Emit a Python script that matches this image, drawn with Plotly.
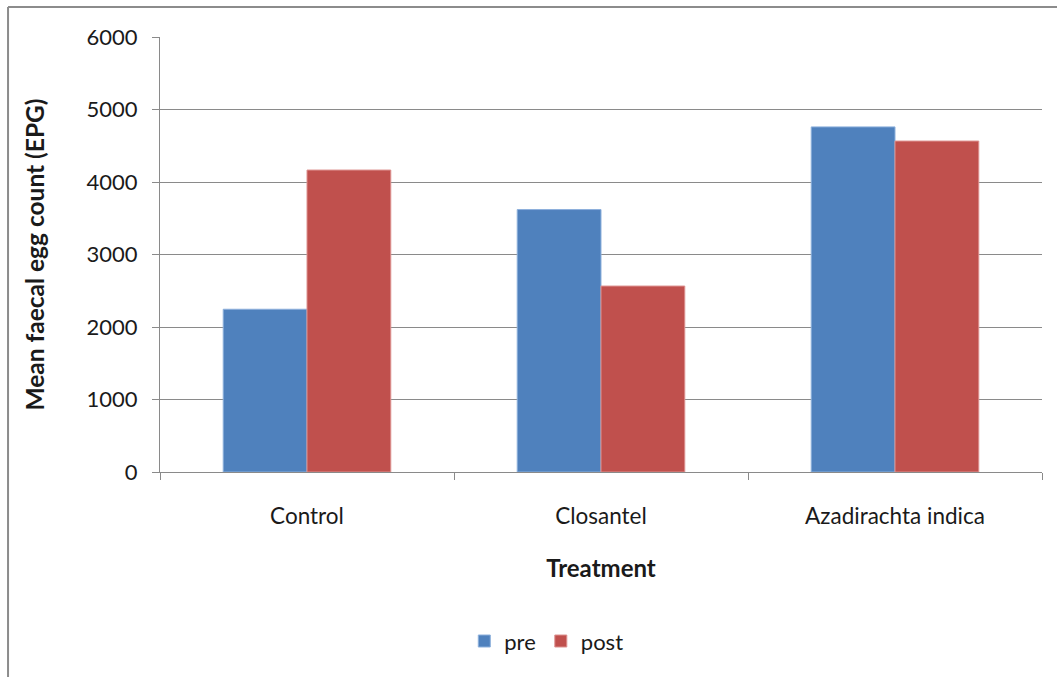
import plotly.graph_objects as go

categories = ["Control", "Closantel", "Azadirachta indica"]
pre_values = [2245, 3620, 4760]
post_values = [4165, 2565, 4565]
series_names = ["pre", "post"]
y_tick_values = [0, 1000, 2000, 3000, 4000, 5000, 6000]

BLUE = "#4F81BD"
RED = "#C0504D"
GRID = "#8A8A8A"
FONT = "Lato"

fig = go.Figure()
fig.add_trace(go.Bar(x=categories, y=pre_values, name=series_names[0],
                     marker=dict(color=BLUE, line=dict(color="#8DB0DC", width=1))))
fig.add_trace(go.Bar(x=categories, y=post_values, name=series_names[1],
                     marker=dict(color=RED, line=dict(color="#DD9290", width=1))))

fig.update_layout(
    width=1057, height=677,
    margin=dict(l=160, r=15, t=37, b=205),
    paper_bgcolor="white", plot_bgcolor="white",
    barmode="group", bargap=0.43, bargroupgap=0,
    font=dict(family=FONT, size=22, color="#1a1a1a"),
    showlegend=True,
    legend=dict(orientation="h", x=0.345, xanchor="left", y=-0.389, yanchor="middle",
                font=dict(size=22), itemwidth=30, traceorder="normal"),
    xaxis=dict(
        showline=True, linecolor=GRID, linewidth=1,
        ticks="outside", ticklen=7, tickcolor=GRID, tickson="boundaries",
        ticklabelstandoff=24, tickfont=dict(size=22.5),
        title=dict(text="<b>Treatment</b>", standoff=32, font=dict(size=24)),
    ),
    yaxis=dict(
        range=[0, 6000], tickvals=y_tick_values, showgrid=True, gridcolor=GRID, gridwidth=1,
        showline=True, linecolor=GRID, linewidth=1,
        ticks="outside", ticklen=7, tickcolor=GRID, ticklabelstandoff=10,
        tickfont=dict(size=22),
        zeroline=False,
        title=dict(text="<b>Mean faecal egg count (EPG)</b>", standoff=34, font=dict(size=24.5)),
    ),
    shapes=[
        dict(type="line", xref="paper", yref="paper", x0=-0.1723, x1=1.05, y0=1.069, y1=1.069,
             line=dict(color="#8C8C8C", width=2)),
        dict(type="line", xref="paper", yref="paper", x0=-0.1723, x1=-0.1723, y0=1.069, y1=-0.48,
             line=dict(color="#8C8C8C", width=2)),
    ],
)

fig.write_html("out.html", config={"displayModeBar": False},
               post_script="document.body.style.margin='0';")
